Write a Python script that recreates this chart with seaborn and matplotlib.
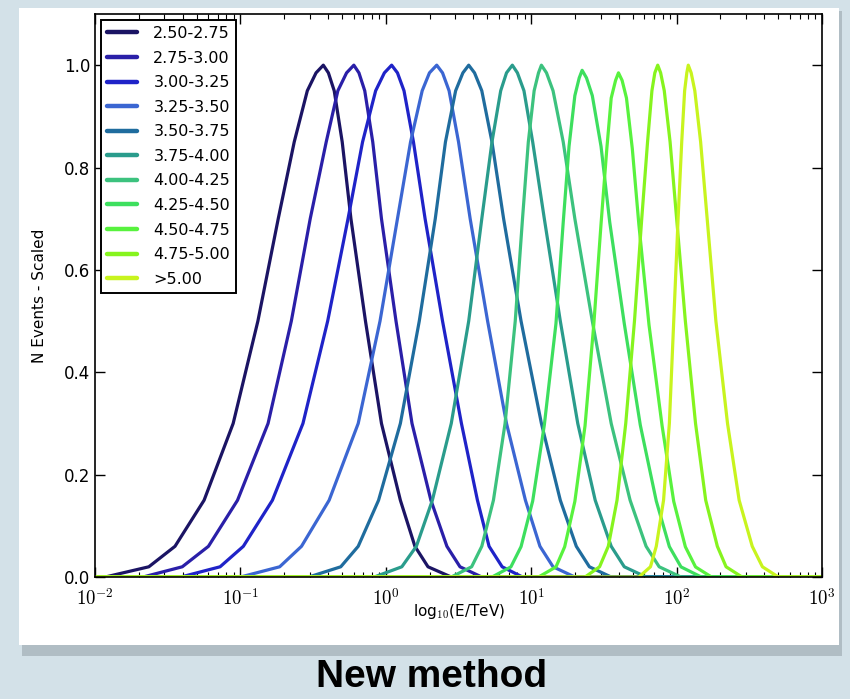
"""
Energy distributions per bin (new method) - seaborn recreation
"""

import matplotlib
matplotlib.use("Agg")

import matplotlib.pyplot as plt
import numpy as np
import pandas as pd
import seaborn as sns
from matplotlib.patches import Rectangle

# ─────────────────────────────────────────
# data (log10(E/TeV))
# ─────────────────────────────────────────
BINS = ["2.50-2.75", "2.75-3.00", "3.00-3.25", "3.25-3.50", "3.50-3.75",
        "3.75-4.00", "4.00-4.25", "4.25-4.50", "4.50-4.75", "4.75-5.00", ">5.00"]
COLORS = ["#1b1464", "#2a1fa8", "#1f23c8", "#3b66d2", "#1f6c9e", "#2a9c8c",
          "#3cc27e", "#3ddf5e", "#58f23e", "#86f41e", "#c8f41e"]

PEAK_LOG_E = [-0.43, -0.22, 0.04, 0.35, 0.57, 0.87, 1.07, 1.35, 1.60, 1.87, 2.08]
PEAK_HEIGHT = [1.0, 1.0, 1.0, 1.0, 1.0, 1.0, 1.0, 0.99, 0.985, 1.0, 1.0]

# fraction of peak height at which the side offsets below were read
LEVELS = [0.985, 0.95, 0.85, 0.7, 0.5, 0.3, 0.15, 0.06, 0.02, 0.0]

LEFT_DEX = [
    [-0.05, -0.11, -0.20, -0.31, -0.45, -0.62, -0.82, -1.02, -1.20, -1.50],
    [-0.05, -0.11, -0.19, -0.30, -0.43, -0.59, -0.80, -1.00, -1.18, -1.45],
    [-0.05, -0.11, -0.20, -0.30, -0.44, -0.61, -0.82, -1.02, -1.18, -1.45],
    [-0.05, -0.10, -0.18, -0.27, -0.39, -0.54, -0.74, -0.93, -1.08, -1.35],
    [-0.04, -0.09, -0.16, -0.23, -0.34, -0.47, -0.62, -0.76, -0.88, -1.10],
    [-0.04, -0.08, -0.14, -0.21, -0.30, -0.42, -0.55, -0.66, -0.76, -0.95],
    [-0.02, -0.05, -0.09, -0.13, -0.18, -0.25, -0.33, -0.41, -0.48, -0.62],
    [-0.02, -0.05, -0.09, -0.13, -0.18, -0.26, -0.34, -0.42, -0.49, -0.62],
    [-0.02, -0.05, -0.08, -0.12, -0.17, -0.23, -0.30, -0.37, -0.43, -0.55],
    [-0.02, -0.04, -0.07, -0.11, -0.16, -0.22, -0.28, -0.34, -0.40, -0.50],
    [-0.01, -0.025, -0.045, -0.07, -0.10, -0.13, -0.17, -0.22, -0.26, -0.34],
]
RIGHT_DEX = [
    [0.035, 0.075, 0.13, 0.19, 0.29, 0.40, 0.53, 0.63, 0.72, 0.88],
    [0.035, 0.075, 0.13, 0.19, 0.29, 0.40, 0.53, 0.64, 0.73, 0.88],
    [0.04, 0.085, 0.15, 0.23, 0.35, 0.48, 0.59, 0.67, 0.76, 0.90],
    [0.04, 0.085, 0.15, 0.23, 0.35, 0.48, 0.61, 0.71, 0.80, 0.95],
    [0.04, 0.09, 0.16, 0.24, 0.36, 0.50, 0.63, 0.74, 0.83, 0.98],
    [0.035, 0.08, 0.14, 0.22, 0.33, 0.45, 0.57, 0.68, 0.77, 0.92],
    [0.035, 0.08, 0.15, 0.23, 0.35, 0.48, 0.61, 0.72, 0.81, 0.96],
    [0.03, 0.07, 0.13, 0.19, 0.29, 0.40, 0.51, 0.60, 0.68, 0.82],
    [0.025, 0.055, 0.095, 0.14, 0.21, 0.30, 0.38, 0.46, 0.53, 0.64],
    [0.02, 0.045, 0.085, 0.13, 0.19, 0.26, 0.33, 0.41, 0.47, 0.58],
    [0.02, 0.045, 0.085, 0.13, 0.19, 0.27, 0.35, 0.44, 0.51, 0.62],
]

X_RANGE_LOG = (-2.0, 3.0)
X_TICKS = [1e-2, 1e-1, 1e0, 1e1, 1e2, 1e3]
X_TICK_LABELS = [r"$10^{-2}$", r"$10^{-1}$", r"$10^{0}$", r"$10^{1}$", r"$10^{2}$", r"$10^{3}$"]
Y_TICKS = [0.0, 0.2, 0.4, 0.6, 0.8, 1.0]
Y_TICK_LABELS = ["0.0", "0.2", "0.4", "0.6", "0.8", "1.0"]


def build_curves() -> pd.DataFrame:
    rows = []
    for name, peak, h, left, right in zip(BINS, PEAK_LOG_E, PEAK_HEIGHT, LEFT_DEX, RIGHT_DEX):
        xs = [X_RANGE_LOG[0]] + [peak + d for d in left[::-1]] + [peak] \
            + [peak + d for d in right] + [X_RANGE_LOG[1]]
        ys = [0.0] + [h * f for f in LEVELS[::-1]] + [h] + [h * f for f in LEVELS] + [0.0]
        for x, y in zip(xs, ys):
            rows.append({"bin": name, "E": 10 ** x, "N": y})
    return pd.DataFrame(rows)


df = build_curves()

# ─────────────────────────────────────────
# figure
# ─────────────────────────────────────────
sns.set_style("ticks")
plt.rcParams["font.family"] = ["DejaVu Sans"]
plt.rcParams["mathtext.fontset"] = "cm"
plt.rcParams["text.color"] = "black"
plt.rcParams["axes.labelcolor"] = "black"
plt.rcParams["xtick.color"] = "black"
plt.rcParams["ytick.color"] = "black"

fig = plt.figure(figsize=(8.5, 6.99), dpi=100, facecolor="#d3e1e8")
# white panel with a soft shadow
fig.patches.append(Rectangle((0.026, 0.062), 0.965, 0.922, transform=fig.transFigure,
                             facecolor="#9aa6ad", edgecolor="none", alpha=0.6, zorder=-2))
fig.patches.append(Rectangle((0.022, 0.077), 0.965, 0.912, transform=fig.transFigure,
                             facecolor="white", edgecolor="none", zorder=-1))

ax = fig.add_axes([0.1118, 0.1745, 0.8553, 0.8055])
ax.set_zorder(2)
sns.lineplot(data=df, x="E", y="N", hue="bin", palette=COLORS, hue_order=BINS,
             estimator=None, sort=False, linewidth=2.3, ax=ax, legend=False)

ax.set_xscale("log")
ax.set_xlim(1e-2, 1e3)
ax.set_ylim(0, 1.1)
ax.set_xticks(X_TICKS)
ax.set_xticklabels(X_TICK_LABELS, fontsize=13.5)
ax.set_yticks(Y_TICKS)
ax.set_yticklabels(Y_TICK_LABELS, fontsize=12)
ax.set_xlabel(r"log$_{10}$(E/TeV)", fontsize=11, labelpad=-5)
ax.set_ylabel("N Events - Scaled", fontsize=11, labelpad=12)
ax.tick_params(which="both", direction="in", top=True, right=True)
ax.tick_params(which="major", length=7, width=1)
ax.tick_params(which="minor", length=3.5, width=0.8)
ax.tick_params(axis="x", pad=8)
for s in ax.spines.values():
    s.set_linewidth(1.2)
    s.set_color("black")

handles = [plt.Line2D([], [], color=c, lw=3.2) for c in COLORS]
leg = ax.legend(handles, BINS, loc="upper left", fontsize=11.5, labelspacing=0.6,
                handlelength=1.9, handletextpad=1.0, borderaxespad=0.35,
                fancybox=False, framealpha=1)
leg.get_frame().set_edgecolor("black")
leg.get_frame().set_linewidth(1.4)

fig.text(0.508, 0.032, "New method", ha="center", va="center", fontsize=28,
         fontweight="bold", family="Liberation Sans", color="black")

fig.savefig("out.png", dpi=100, facecolor=fig.get_facecolor())
